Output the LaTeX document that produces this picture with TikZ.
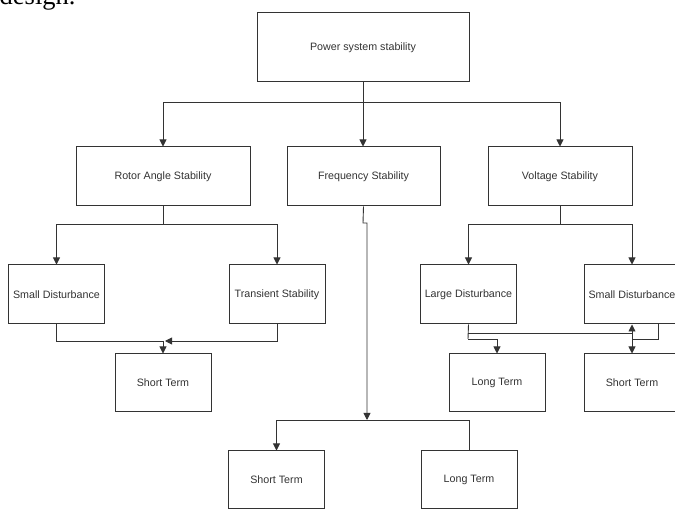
\documentclass[tikz,border=0pt]{standalone}
\usepackage{fontspec}
\setmainfont{Liberation Sans}
\newfontfamily\serifcap{Liberation Serif}
\usetikzlibrary{arrows.meta}
\tikzset{
  x=1pt, y=-1pt,
  box/.style={draw=black!80, line width=1pt, fill=white, inner sep=0pt,
    minimum width=96pt, minimum height=59pt, font=\fontsize{10.7}{12}\selectfont, text=black!80},
  link/.style={draw=black!80, line width=0.9pt},
  arr/.style={link, -{Triangle[length=7pt,width=7pt]}},
}
\begin{document}
\begin{tikzpicture}
\useasboundingbox (0,0) rectangle (675,510);
\clip (0,0) rectangle (675,510);
\node[anchor=base west, font=\serifcap\fontsize{26.5}{30}\selectfont, inner sep=0pt] (cap) at (-0.5,4.5) {design.};

\node[box, minimum width=212pt, minimum height=69pt] (root) at (363,47.5) {Power system stability};
\node[box, minimum width=174pt] (ras) at (163,176.5) {Rotor Angle Stability};
\node[box, minimum width=153pt] (fs) at (363.5,176.5) {Frequency Stability};
\node[box, minimum width=144pt] (vs) at (560,176.5) {Voltage Stability};

\node[box] (sd1) at (56.5,294.5) {Small Disturbance};
\node[box] (ts) at (277,294.5) {Transient Stability};
\node[box, minimum height=58pt] (st1) at (163,383) {Short Term};

\node[box] (ld) at (468.5,294.5) {Large Disturbance};
\node[box] (sd2) at (632,294.5) {Small Disturbance};
\node[box, minimum height=58pt] (lt1) at (497,383) {Long Term};
\node[box, minimum height=58pt] (st2) at (632,383) {Short Term};

\node[box, minimum height=57pt] (st3) at (276.5,479.5) {Short Term};
\node[box, minimum height=57pt] (lt2) at (469,479.5) {Long Term};

% level 1 -> level 2
\coordinate (b0) at (363,102);
\draw[link] (root.south) -- (b0);
\draw[arr] (b0) -| (ras.north);
\draw[arr] (b0) -| (vs.north);
\draw[arr] (b0) -- (b0 |- fs.north);

% rotor angle
\coordinate (b1) at (163,224);
\draw[link] (ras.south) -- (b1);
\draw[arr] (b1) -| (sd1.north);
\draw[arr] (b1) -| (ts.north);
\coordinate (m1) at (163,341);
\draw[link] (sd1.south) |- (m1);
\draw[arr] (ts.south) |- ([xshift=2pt]m1);
\draw[arr] (m1) -- (st1.north);

% frequency
\coordinate (f1) at (363,223);
\coordinate (f2) at (367,223);
\coordinate (fb) at (367,420);
\draw[arr] (fs.south) -- (f1) -- (f2) -- (fb);
\draw[arr] (fb) -| (st3.north);
\draw[link] (fb) -| (lt2.north);

% voltage
\coordinate (b2) at (560,224);
\draw[link] (vs.south) -- (b2);
\draw[arr] (b2) -| (ld.north);
\draw[arr] (b2) -| (sd2.north);
\coordinate (v1) at (468,333);
\coordinate (v2) at (632,333);
\coordinate (v3) at (468,339);
\coordinate (v4) at (632,339);
\draw[link] (ld.south) -- (v3);
\draw[link] (v1) -- (v2);
\draw[arr] (v2) -- (sd2.south);
\draw[arr] (v3) -| (lt1.north);
\draw[link] ([xshift=26pt]sd2.south) |- (v4);
\draw[link] (v2) -- (v4);
\draw[arr] (v4) -- (st2.north);
\end{tikzpicture}
\end{document}
